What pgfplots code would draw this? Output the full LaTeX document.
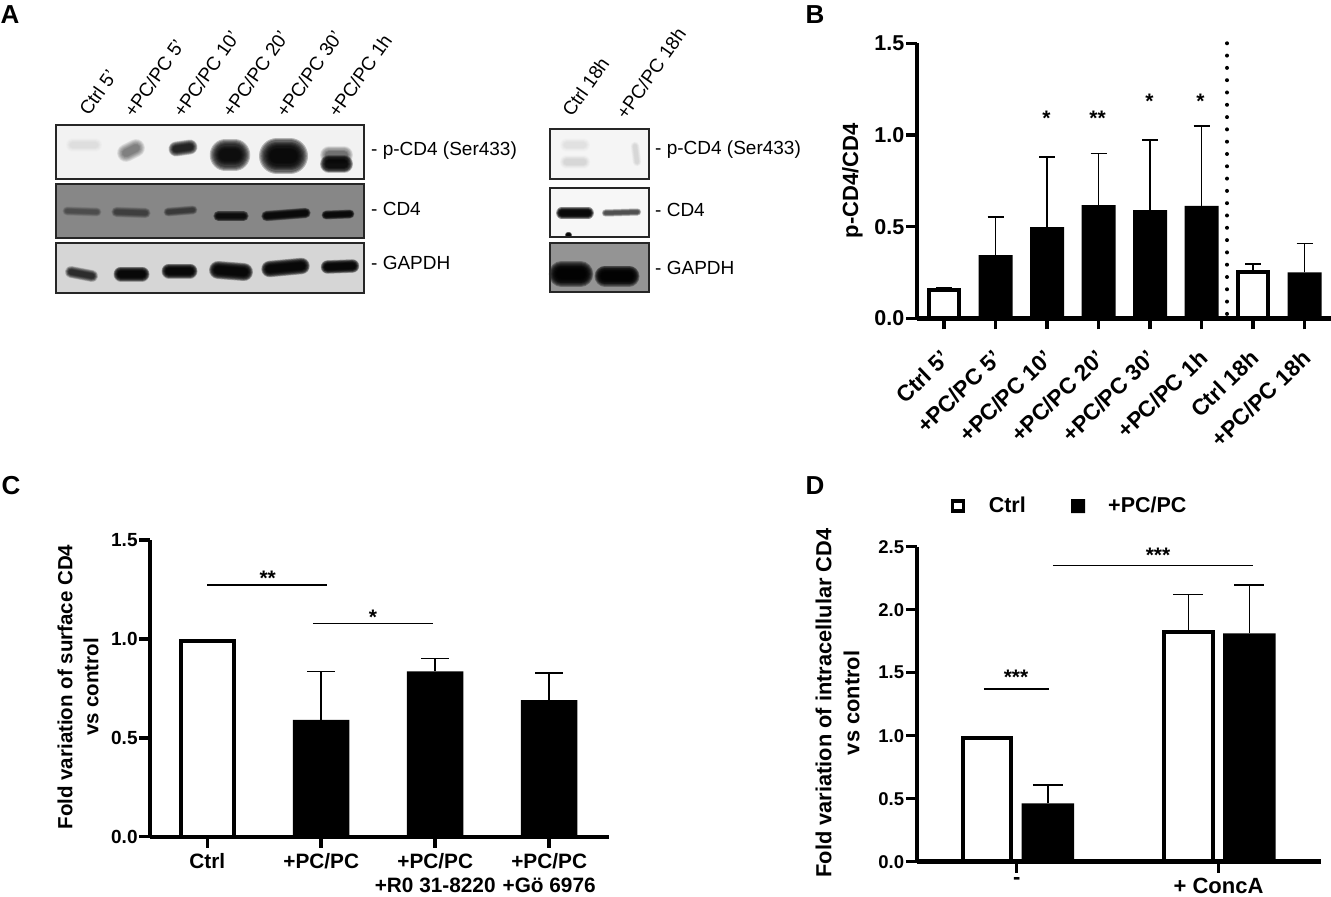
\documentclass[border=0pt]{standalone}
\usepackage{fontspec}
\setmainfont{Liberation Sans}
\usepackage{pgfplots}
\pgfplotsset{compat=1.18}

\newcommand{\fs}[1]{\fontsize{#1}{#1}\selectfont}

% one lane of a blot: x1 x2 y1 y2 thickness strength
\newcommand{\band}[6]{%
  \pgfmathsetmacro\xa{#1+#5/2}\pgfmathsetmacro\xb{#2-#5/2}%
  \pgfplotsinvokeforeach{1.5,1.4,1.3,1.2,1.1,1.0,0.9,0.8,0.7,0.6}{%
    \addplot[black,opacity=#6,line cap=round,line width=#5*##1pt] coordinates {(\xa,#3) (\xb,#4)};
  }%
}
\newcommand{\membrane}[5]{%
  \addplot[draw=none,fill=#5] coordinates {(#1,#3) (#2,#3) (#2,#4) (#1,#4) (#1,#3)};
}
\newcommand{\frameit}[4]{%
  \addplot[draw=black!85,line width=1.5pt,line join=miter] coordinates {(#1,#3) (#2,#3) (#2,#4) (#1,#4) (#1,#3) (#2,#3)};
}

\pgfplotsset{
  panel/.style={
    scale only axis, axis lines*=left, axis on top, clip=false,
    ymin=0, tick align=outside, major tick length=11pt,
    every tick/.style={black,line width=3.5pt},
    every major tick/.style={black,line width=3.5pt},
    axis line style={black,line width=4.5pt,-},
    minor tick num=0,
    /pgf/number format/.cd, fixed, fixed zerofill, precision=1, assume math mode=true,
    /pgfplots/.cd,
    ylabel style={align=center,anchor=center},
  },
  barw/.style={ybar,bar shift=0pt,bar width=#1,fill=white,draw=black,line width=4pt},
  barb/.style={ybar,bar shift=0pt,bar width=#1,fill=black,draw=none},
  errs/.style={error bars/.cd,y dir=plus,y explicit,
    error bar style={black,line width=1.6pt},
    error mark options={rotate=90,black,mark size=#1,line width=1.6pt}},
}

\begin{document}
\begin{tikzpicture}
\path[use as bounding box] (0pt,0pt) rectangle (1331pt,897pt);

% B
\begin{axis}[panel,at={(917pt,578.7pt)},anchor=south west,width=414pt,height=275pt,
  xmin=-0.5243,xmax=7.5146,ymax=1.5,
  ytick={0,0.5,1,1.5},xtick={0,...,7},
  xticklabels={Ctrl 5',+PC/PC 5',+PC/PC 10',+PC/PC 20',+PC/PC 30',+PC/PC 1h,Ctrl 18h,+PC/PC 18h},
  yticklabel style={font=\fs{21.5}\bfseries,inner sep=1.5pt},
  xticklabel style={font=\fs{22.5}\bfseries,rotate=44,anchor=north east,inner sep=0pt,xshift=-16pt,yshift=-11pt},
  ylabel={p-CD4/CD4},
  ylabel style={font=\fs{22}\bfseries,at={(axis description cs:-0.1558,0.4993)}},
]
\addplot[barw=30pt,errs=8pt] coordinates {(0,0.155) +- (0,0.011) (6,0.25) +- (0,0.046)};
\addplot[barb=34pt,errs=8pt] coordinates {(1,0.345) +- (0,0.209) (2,0.497) +- (0,0.384) (3,0.617) +- (0,0.281) (4,0.59) +- (0,0.381) (5,0.613) +- (0,0.436) (7,0.25) +- (0,0.157)};
\addplot[black,line width=4pt,line cap=round,dash pattern=on 0pt off 12.3pt] coordinates {(5.495,1.5) (5.495,0)};
\end{axis}

% C
\begin{axis}[panel,at={(150.3pt,60.3pt)},anchor=south west,width=458.7pt,height=296.7pt,
  xmin=-0.5,xmax=3.525,ymax=1.5,
  axis line style={black,line width=4pt,-},
  ytick={0,0.5,1,1.5},xtick={0,1,2,3},
  xticklabels={Ctrl,+PC/PC,+PC/PC\\+R0 31-8220,+PC/PC\\+Gö 6976},
  yticklabel style={font=\fs{19}\bfseries,inner sep=1.5pt},
  xticklabel style={font=\fontsize{20.8}{24}\selectfont\bfseries,align=center,anchor=north,inner sep=0pt,yshift=-6pt},
  ylabel={Fold variation of surface CD4\\vs control},
  ylabel style={font=\fontsize{20.5}{26}\selectfont\bfseries,at={(axis description cs:-0.1576,0.5045)}},
]
\addplot[barw=52.5pt] coordinates {(0,0.99)};
\addplot[barb=56.5pt,errs=14pt] coordinates {(1,0.59) +- (0,0.246) (2,0.836) +- (0,0.064) (3,0.69) +- (0,0.139)};
\addplot[black,line width=1.5pt] coordinates {(0,1.273) (1.053,1.273)};
\addplot[black,line width=1.5pt] coordinates {(0.927,1.079) (1.98,1.079)};
\end{axis}

% D
\begin{axis}[panel,at={(916.8pt,35.3pt)},anchor=south west,width=404.6pt,height=315pt,
  xmin=-0.495,xmax=1.51,ymax=2.5,
  ytick={0,0.5,1,1.5,2,2.5},xtick={0,1},
  xticklabels={-,+ ConcA},
  yticklabel style={font=\fs{18.5}\bfseries,inner sep=1.5pt},
  xticklabel style={font=\fs{22}\bfseries,anchor=north,inner sep=0pt,yshift=-5pt},
  ylabel={Fold variation of intracellular CD4\\vs control},
  ylabel style={font=\fontsize{21.8}{28}\selectfont\bfseries,at={(axis description cs:-0.1957,0.504)}},
]
\addplot[barw=48.5pt,errs=15pt] coordinates {(-0.1467,0.985) (0.851,1.825) +- (0,0.297)};
\addplot[barb=52.5pt,errs=15pt] coordinates {(0.155,0.463) +- (0,0.146) (1.153,1.813) +- (0,0.385)};
\addplot[black,line width=1.5pt] coordinates {(-0.1625,1.37) (0.1595,1.37)};
\addplot[black,line width=1.5pt] coordinates {(0.1795,2.35) (1.169,2.35)};
\end{axis}

% A, blots and text, in pixels of the page
\begin{axis}[scale only axis,at={(0pt,0pt)},anchor=south west,width=1331pt,height=897pt,
  xmin=0,xmax=1331,ymin=0,ymax=897,y dir=reverse,hide axis,clip=false]
\membrane{56}{364}{125}{179}{black!5}
\band{68}{100}{145}{145}{9}{0.006}
\band{120}{142}{153}{148}{12}{0.06}
\band{171}{195}{149}{147}{10}{0.17}
\band{215}{245}{155}{155}{21}{0.24}
\band{265}{302}{156}{156}{24}{0.26}
\band{323}{350}{155}{155}{12}{0.07}
\band{323}{350}{164}{164}{12}{0.24}
\frameit{56}{364}{125}{179}

\membrane{56}{364}{184}{238}{black!47}
\band{64}{100}{211}{212}{6}{0.05}
\band{113}{149}{212}{213}{7}{0.07}
\band{165}{196}{212}{210}{6}{0.08}
\band{215}{247}{216}{216}{7}{0.2}
\band{263}{309}{216}{213}{7}{0.22}
\band{323}{353}{215}{214}{6}{0.22}
\frameit{56}{364}{184}{238}

\membrane{56}{364}{243}{293}{black!16}
\band{67}{96}{272}{276}{8}{0.14}
\band{116}{147}{274}{274}{10}{0.27}
\band{164}{195}{271}{271}{10}{0.27}
\band{212}{250}{270}{272}{12}{0.27}
\band{264}{307}{269}{266}{11}{0.27}
\band{323}{357}{267}{266}{9}{0.27}
\frameit{56}{364}{243}{293}

\membrane{550}{649}{129}{179}{black!4}
\band{562}{588}{145}{145}{9}{0.006}
\band{562}{588}{162}{162}{9}{0.01}
\band{632}{640}{146}{162}{6}{0.01}
\frameit{550}{649}{129}{179}

\membrane{550}{649}{188}{237}{black!3}
\band{558}{592}{213}{213}{8}{0.27}
\band{603}{640}{213}{212}{5}{0.1}
\band{566}{571}{235}{235}{4}{0.3}
\frameit{550}{649}{188}{237}

\membrane{550}{649}{243}{292}{black!42}
\band{553}{589}{274}{274}{17}{0.3}
\band{598}{636}{276}{276}{14}{0.3}
\frameit{550}{649}{243}{292}

\tikzset{lane/.style={font=\fs{19},rotate=55,anchor=base west,inner sep=0pt},
  side/.style={font=\fs{19},anchor=west,inner sep=0pt},
  pan/.style={font=\fs{26}\bfseries,inner sep=0pt},
  star/.style={font=\fs{21}\bfseries,inner sep=0pt}}
\node[lane] at (axis cs:89,117) {Ctrl 5'};
\node[lane] at (axis cs:134,119) {+PC/PC 5'};
\node[lane] at (axis cs:183,119) {+PC/PC 10'};
\node[lane] at (axis cs:232,119) {+PC/PC 20'};
\node[lane] at (axis cs:286,119) {+PC/PC 30'};
\node[lane] at (axis cs:338,119) {+PC/PC 1h};
\node[lane] at (axis cs:572,118) {Ctrl 18h};
\node[lane] at (axis cs:626,121) {+PC/PC 18h};

\node[side] at (axis cs:371,151) {- p-CD4 (Ser433)};
\node[side] at (axis cs:371,209) {- CD4};
\node[side] at (axis cs:371,263) {- GAPDH};
\node[side] at (axis cs:655,150) {- p-CD4 (Ser433)};
\node[side] at (axis cs:655,210) {- CD4};
\node[side] at (axis cs:655,268) {- GAPDH};

\node[pan] at (axis cs:10,15) {A};
\node[pan] at (axis cs:815,15) {B};
\node[pan] at (axis cs:11,486) {C};
\node[pan] at (axis cs:815,486) {D};

\node[star] at (axis cs:1046.5,118) {*};
\node[star] at (axis cs:1097.5,118) {**};
\node[star] at (axis cs:1149.5,101.6) {*};
\node[star] at (axis cs:1200.5,101.6) {*};
\node[star] at (axis cs:267.7,578) {**};
\node[star] at (axis cs:372.9,617) {*};
\node[star] at (axis cs:1016,677) {***};
\node[star] at (axis cs:1158,555.7) {***};

% legend of D
\addplot[draw=black,fill=white,line width=3.5pt] coordinates {(952.5,501) (963.5,501) (963.5,511) (952.5,511) (952.5,501) (963.5,501)};
\addplot[draw=none,fill=black] coordinates {(1071,499) (1085,499) (1085,513) (1071,513) (1071,499)};
\node[font=\fs{21.5}\bfseries,inner sep=0pt,anchor=west] at (axis cs:988.6,505) {Ctrl};
\node[font=\fs{21.5}\bfseries,inner sep=0pt,anchor=west] at (axis cs:1108,505) {+PC/PC};
\end{axis}
\end{tikzpicture}
\end{document}
